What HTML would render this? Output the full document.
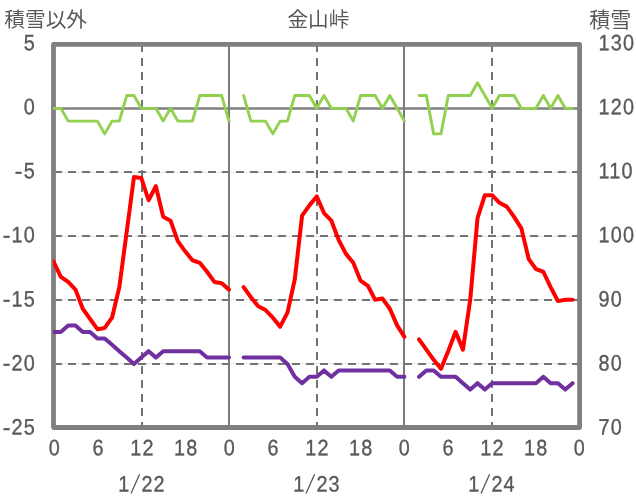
<!DOCTYPE html>
<html lang="ja"><head><meta charset="utf-8"><title>金山峠</title>
<style>html,body{margin:0;padding:0;background:#fff;}body{width:636px;height:501px;overflow:hidden;font-family:"Liberation Sans",sans-serif;}svg{display:block;}text{font-family:"Liberation Sans",sans-serif;font-size:21.33px;fill:#595959;stroke:#595959;stroke-width:0.35px;}text.h{fill:none;stroke:none;}text.j{font-family:"Liberation Sans","Noto Sans CJK JP",sans-serif;fill:#595959;stroke:none;}</style></head><body>
<div style="will-change:transform;width:636px;height:501px">
<svg width="636" height="501" viewBox="0 0 636 501">
<rect width="636" height="501" fill="#fff"/>
<line x1="54.50" y1="172.50" x2="579.50" y2="172.50" stroke="#e2e2e2" stroke-width="1"/>
<line x1="54.50" y1="236.50" x2="579.50" y2="236.50" stroke="#e2e2e2" stroke-width="1"/>
<line x1="54.50" y1="299.50" x2="579.50" y2="299.50" stroke="#e2e2e2" stroke-width="1"/>
<line x1="54.50" y1="363.50" x2="579.50" y2="363.50" stroke="#e2e2e2" stroke-width="1"/>
<line x1="54" y1="172.00" x2="579.50" y2="172.00" stroke="#737373" stroke-width="2" stroke-dasharray="8 6"/>
<line x1="54" y1="236.00" x2="579.50" y2="236.00" stroke="#737373" stroke-width="2" stroke-dasharray="8 6"/>
<line x1="54" y1="300.00" x2="579.50" y2="300.00" stroke="#737373" stroke-width="2" stroke-dasharray="8 6"/>
<line x1="54" y1="364.00" x2="579.50" y2="364.00" stroke="#737373" stroke-width="2" stroke-dasharray="8 6"/>
<line x1="142" y1="44" x2="142" y2="427.5" stroke="#737373" stroke-width="2" stroke-dasharray="8 6"/>
<line x1="317" y1="44" x2="317" y2="427.5" stroke="#737373" stroke-width="2" stroke-dasharray="8 6"/>
<line x1="492" y1="44" x2="492" y2="427.5" stroke="#737373" stroke-width="2" stroke-dasharray="8 6"/>
<line x1="229" y1="44.4" x2="229" y2="427.5" stroke="#7b7b7b" stroke-width="2"/>
<line x1="404" y1="44.4" x2="404" y2="427.5" stroke="#7b7b7b" stroke-width="2"/>
<rect x="53.5" y="44.4" width="526.1" height="383.1" fill="none" stroke="#808080" stroke-width="4.8" stroke-linejoin="round"/>
<line x1="54.50" y1="108.43" x2="579.50" y2="108.43" stroke="#808080" stroke-width="2.5"/>
<clipPath id="pc"><rect x="53" y="40" width="530" height="392"/></clipPath><g clip-path="url(#pc)">
<polyline points="53.55,108.33 60.86,108.33 68.17,121.10 75.48,121.10 82.79,121.10 90.10,121.10 97.41,121.10 104.72,133.87 112.03,121.10 119.34,121.10 126.65,95.57 133.96,95.57 141.27,108.33 148.58,108.33 155.89,108.33 163.20,121.10 170.51,108.33 177.82,121.10 185.13,121.10 192.44,121.10 199.75,95.57 207.06,95.57 214.37,95.57 221.68,95.57 228.99,121.10" fill="none" stroke="#92d050" stroke-width="2.9" stroke-linejoin="round" stroke-linecap="round"/>
<polyline points="243.61,95.57 250.92,121.10 258.23,121.10 265.54,121.10 272.85,133.87 280.16,121.10 287.47,121.10 294.78,95.57 302.09,95.57 309.40,95.57 316.71,108.33 324.02,95.57 331.33,108.33 338.64,108.33 345.95,108.33 353.26,121.10 360.57,95.57 367.88,95.57 375.19,95.57 382.50,108.33 389.81,95.57 397.12,108.33 404.43,121.10" fill="none" stroke="#92d050" stroke-width="2.9" stroke-linejoin="round" stroke-linecap="round"/>
<polyline points="419.05,95.57 426.36,95.57 433.67,133.87 440.98,133.87 448.29,95.57 455.60,95.57 462.91,95.57 470.22,95.57 477.53,82.80 484.84,95.57 492.15,108.33 499.46,95.57 506.77,95.57 514.08,95.57 521.39,108.33 528.70,108.33 536.01,108.33 543.32,95.57 550.63,108.33 557.94,95.57 565.25,108.33 572.56,108.33" fill="none" stroke="#92d050" stroke-width="2.9" stroke-linejoin="round" stroke-linecap="round"/>
<polyline points="53.55,332.00 60.86,332.00 68.17,325.60 75.48,325.60 82.79,332.00 90.10,332.00 97.41,338.40 104.72,338.40 112.03,344.80 119.34,351.20 126.65,357.60 133.96,364.00 141.27,357.60 148.58,351.20 155.89,357.60 163.20,351.20 170.51,351.20 177.82,351.20 185.13,351.20 192.44,351.20 199.75,351.20 207.06,357.60 214.37,357.60 221.68,357.60 228.99,357.60" fill="none" stroke="#7030a0" stroke-width="4" stroke-linejoin="round" stroke-linecap="round"/>
<polyline points="243.61,357.60 250.92,357.60 258.23,357.60 265.54,357.60 272.85,357.60 280.16,357.60 287.47,364.00 294.78,376.80 302.09,383.20 309.40,376.80 316.71,376.80 324.02,370.40 331.33,376.80 338.64,370.40 345.95,370.40 353.26,370.40 360.57,370.40 367.88,370.40 375.19,370.40 382.50,370.40 389.81,370.40 397.12,376.80 404.43,376.80" fill="none" stroke="#7030a0" stroke-width="4" stroke-linejoin="round" stroke-linecap="round"/>
<polyline points="419.05,376.80 426.36,370.40 433.67,370.40 440.98,376.80 448.29,376.80 455.60,376.80 462.91,383.20 470.22,389.60 477.53,383.20 484.84,389.60 492.15,383.20 499.46,383.20 506.77,383.20 514.08,383.20 521.39,383.20 528.70,383.20 536.01,383.20 543.32,376.80 550.63,383.20 557.94,383.20 565.25,389.60 572.56,383.20" fill="none" stroke="#7030a0" stroke-width="4" stroke-linejoin="round" stroke-linecap="round"/>
<polyline points="53.55,261.53 60.86,276.85 68.17,281.96 75.48,289.62 82.79,308.77 90.10,318.98 97.41,329.20 104.72,327.92 112.03,317.71 119.34,287.07 126.65,232.17 133.96,177.02 141.27,177.91 148.58,200.25 155.89,186.21 163.20,216.85 170.51,220.68 177.82,241.11 185.13,251.32 192.44,260.26 199.75,262.81 207.06,271.75 214.37,281.96 221.68,283.24 228.99,289.62" fill="none" stroke="#ff0000" stroke-width="4" stroke-linejoin="round" stroke-linecap="round"/>
<polyline points="243.61,287.07 250.92,297.28 258.23,306.22 265.54,310.05 272.85,317.71 280.16,326.64 287.47,312.60 294.78,279.41 302.09,215.57 309.40,205.36 316.71,196.42 324.02,213.02 331.33,220.68 338.64,239.83 345.95,253.87 353.26,262.81 360.57,280.68 367.88,285.79 375.19,299.83 382.50,298.56 389.81,308.77 397.12,325.37 404.43,336.86" fill="none" stroke="#ff0000" stroke-width="4" stroke-linejoin="round" stroke-linecap="round"/>
<polyline points="419.05,339.41 426.36,349.62 433.67,359.84 440.98,368.77 448.29,350.90 455.60,331.75 462.91,349.62 470.22,299.83 477.53,218.13 484.84,195.15 492.15,195.15 499.46,202.81 506.77,206.64 514.08,216.85 521.39,228.34 528.70,258.98 536.01,269.19 543.32,271.75 550.63,287.07 557.94,301.11 565.25,299.83 572.56,299.83" fill="none" stroke="#ff0000" stroke-width="4" stroke-linejoin="round" stroke-linecap="round"/>
</g>
<text transform="translate(35.90 50.20) rotate(0.03) scale(0.93 1.04)" text-anchor="end" letter-spacing="1.25">5</text>
<text transform="translate(35.90 114.25) rotate(0.03) scale(0.93 1.04)" text-anchor="end" letter-spacing="1.25">0</text>
<text transform="translate(35.90 178.30) rotate(0.03) scale(0.93 1.04)" text-anchor="end" letter-spacing="1.25">5</text>
<text transform="translate(23.70 178.70) rotate(0.03) scale(1.08 1.04)" text-anchor="end" letter-spacing="1.25">-</text>
<text transform="translate(35.90 242.35) rotate(0.03) scale(0.93 1.04)" text-anchor="end" letter-spacing="1.25">10</text>
<text transform="translate(11.80 242.75) rotate(0.03) scale(1.08 1.04)" text-anchor="end" letter-spacing="1.25">-</text>
<text transform="translate(35.90 306.40) rotate(0.03) scale(0.93 1.04)" text-anchor="end" letter-spacing="1.25">15</text>
<text transform="translate(11.80 306.80) rotate(0.03) scale(1.08 1.04)" text-anchor="end" letter-spacing="1.25">-</text>
<text transform="translate(35.90 370.45) rotate(0.03) scale(0.93 1.04)" text-anchor="end" letter-spacing="1.25">20</text>
<text transform="translate(11.80 370.85) rotate(0.03) scale(1.08 1.04)" text-anchor="end" letter-spacing="1.25">-</text>
<text transform="translate(35.90 434.50) rotate(0.03) scale(0.93 1.04)" text-anchor="end" letter-spacing="1.25">25</text>
<text transform="translate(11.80 434.90) rotate(0.03) scale(1.08 1.04)" text-anchor="end" letter-spacing="1.25">-</text>
<text transform="translate(598.60 50.20) rotate(0.03) scale(0.93 1.04)" text-anchor="start" letter-spacing="1.25">130</text>
<text transform="translate(598.60 114.25) rotate(0.03) scale(0.93 1.04)" text-anchor="start" letter-spacing="1.25">120</text>
<text transform="translate(598.60 178.30) rotate(0.03) scale(0.93 1.04)" text-anchor="start" letter-spacing="1.25">110</text>
<text transform="translate(598.60 242.35) rotate(0.03) scale(0.93 1.04)" text-anchor="start" letter-spacing="1.25">100</text>
<text transform="translate(598.60 306.40) rotate(0.03) scale(0.93 1.04)" text-anchor="start" letter-spacing="1.25">90</text>
<text transform="translate(598.60 370.45) rotate(0.03) scale(0.93 1.04)" text-anchor="start" letter-spacing="1.25">80</text>
<text transform="translate(598.60 434.50) rotate(0.03) scale(0.93 1.04)" text-anchor="start" letter-spacing="1.25">70</text>
<text transform="translate(54.90 455.30) rotate(0.03) scale(0.93 1.04)" text-anchor="middle" letter-spacing="1.25">0</text>
<text transform="translate(98.65 455.30) rotate(0.03) scale(0.93 1.04)" text-anchor="middle" letter-spacing="1.25">6</text>
<text transform="translate(142.40 455.30) rotate(0.03) scale(0.93 1.04)" text-anchor="middle" letter-spacing="1.25">12</text>
<text transform="translate(186.15 455.30) rotate(0.03) scale(0.93 1.04)" text-anchor="middle" letter-spacing="1.25">18</text>
<text transform="translate(229.90 455.30) rotate(0.03) scale(0.93 1.04)" text-anchor="middle" letter-spacing="1.25">0</text>
<text transform="translate(273.65 455.30) rotate(0.03) scale(0.93 1.04)" text-anchor="middle" letter-spacing="1.25">6</text>
<text transform="translate(317.40 455.30) rotate(0.03) scale(0.93 1.04)" text-anchor="middle" letter-spacing="1.25">12</text>
<text transform="translate(361.15 455.30) rotate(0.03) scale(0.93 1.04)" text-anchor="middle" letter-spacing="1.25">18</text>
<text transform="translate(404.90 455.30) rotate(0.03) scale(0.93 1.04)" text-anchor="middle" letter-spacing="1.25">0</text>
<text transform="translate(448.65 455.30) rotate(0.03) scale(0.93 1.04)" text-anchor="middle" letter-spacing="1.25">6</text>
<text transform="translate(492.40 455.30) rotate(0.03) scale(0.93 1.04)" text-anchor="middle" letter-spacing="1.25">12</text>
<text transform="translate(536.15 455.30) rotate(0.03) scale(0.93 1.04)" text-anchor="middle" letter-spacing="1.25">18</text>
<text transform="translate(579.90 455.30) rotate(0.03) scale(0.93 1.04)" text-anchor="middle" letter-spacing="1.25">0</text>
<text transform="translate(130.50 491.60) rotate(0.03) scale(0.93 1.04)" text-anchor="end" letter-spacing="1.25">1</text>
<line x1="131.00" y1="493.5" x2="139.60" y2="474.3" stroke="#595959" stroke-width="1.3"/>
<text transform="translate(141.40 491.60) rotate(0.03) scale(0.93 1.04)" text-anchor="start" letter-spacing="1.25">22</text>
<text transform="translate(305.50 491.60) rotate(0.03) scale(0.93 1.04)" text-anchor="end" letter-spacing="1.25">1</text>
<line x1="306.00" y1="493.5" x2="314.60" y2="474.3" stroke="#595959" stroke-width="1.3"/>
<text transform="translate(316.40 491.60) rotate(0.03) scale(0.93 1.04)" text-anchor="start" letter-spacing="1.25">23</text>
<text transform="translate(480.50 491.60) rotate(0.03) scale(0.93 1.04)" text-anchor="end" letter-spacing="1.25">1</text>
<line x1="481.00" y1="493.5" x2="489.60" y2="474.3" stroke="#595959" stroke-width="1.3"/>
<text transform="translate(491.40 491.60) rotate(0.03) scale(0.93 1.04)" text-anchor="start" letter-spacing="1.25">24</text>
<text class="j" x="4.3" y="27.4" font-size="20.7px" style="font-size:20.7px">積雪以外</text>
<text class="j" x="318.4" y="26.9" text-anchor="middle" font-size="20.6px" style="font-size:20.6px">金山峠</text>
<text class="j" x="589.3" y="27.3" font-size="21px" style="font-size:21px">積雪</text>
</svg></div></body></html>
